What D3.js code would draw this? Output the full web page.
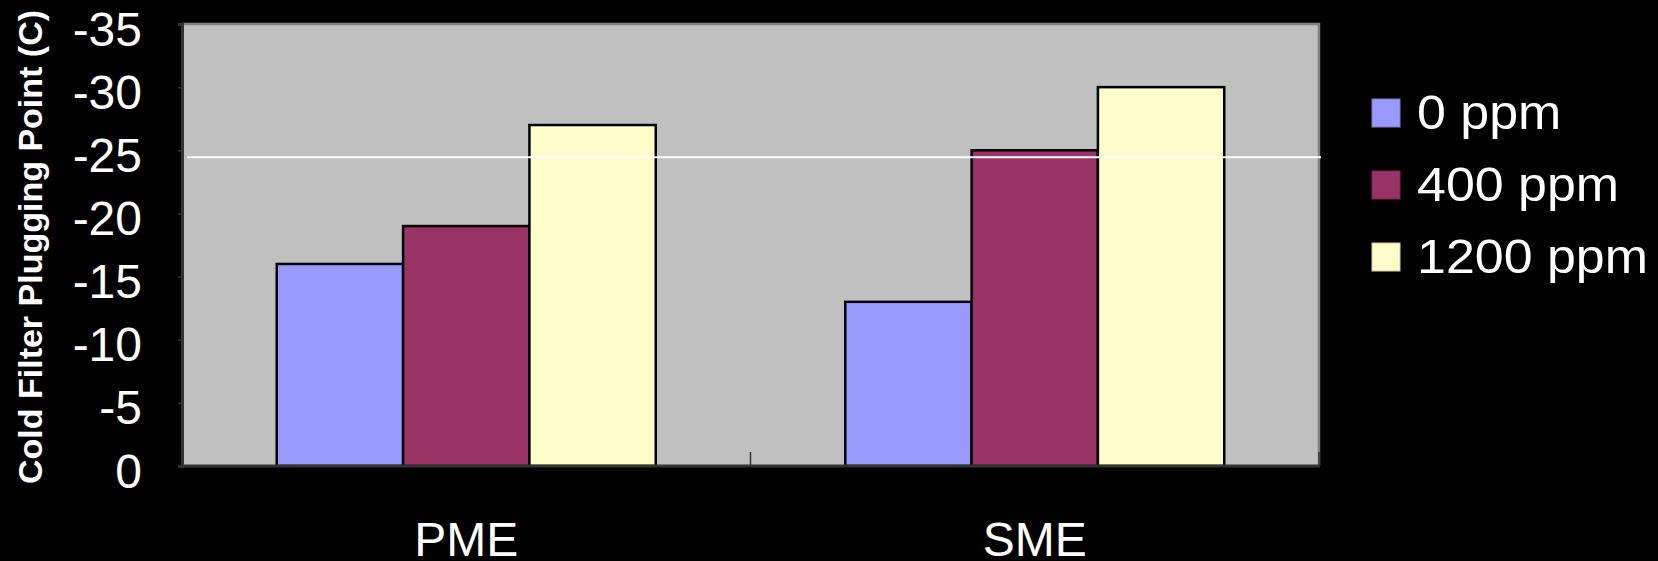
<!DOCTYPE html>
<html>
<head>
<meta charset="utf-8">
<script src="https://cdn.jsdelivr.net/npm/d3@7"></script>
<style>
  html, body { margin: 0; padding: 0; background: #000; }
  svg { display: block; }
  text { font-family: "Liberation Sans", Arial, sans-serif; fill: #fff; }
</style>
</head>
<body>
<svg id="chart" width="1658" height="561"></svg>
<script>
// Cold filter plugging point by fuel and additive dose
const categories = ["PME", "SME"];
const seriesNames = ["0 ppm", "400 ppm", "1200 ppm"];
const seriesColors = ["#9999FF", "#993366", "#FFFFCC"];
const values0ppm = [-16, -13];
const values400ppm = [-19, -25];
const values1200ppm = [-27, -30];
const yTickValues = [0, -5, -10, -15, -20, -25, -30, -35];
const referenceLevel = -24.45;
const yTitle = "Cold Filter Plugging Point (C)";

const seriesValues = [values0ppm, values400ppm, values1200ppm];
const rows = categories.map((c, i) => ({
  category: c,
  bars: seriesNames.map((s, j) => ({ series: s, value: seriesValues[j][i], color: seriesColors[j] }))
}));

const svg = d3.select("#chart");
const plot = { left: 182, right: 1319, top: 24, bottom: 466 };

const y = d3.scaleLinear().domain([0, -35]).range([plot.bottom, plot.top]);
const x0 = d3.scaleBand().domain(categories).range([plot.left, plot.right]).paddingInner(0).paddingOuter(0);
const x1 = d3.scaleBand().domain(seriesNames).range([0, x0.bandwidth()]).paddingInner(0).paddingOuter(0.75);

// plot background
svg.append("rect")
  .attr("x", plot.left).attr("y", plot.top)
  .attr("width", plot.right - plot.left).attr("height", plot.bottom - plot.top)
  .attr("fill", "#C0C0C0");

// top and right frame
svg.append("path")
  .attr("d", `M${plot.left},${plot.top}H${plot.right}V${plot.bottom}`)
  .attr("fill", "none").attr("stroke", "#808080").attr("stroke-width", 2.5);

// bars
const groups = svg.append("g").selectAll("g")
  .data(rows).join("g")
  .attr("transform", d => `translate(${x0(d.category)},0)`);

groups.selectAll("rect")
  .data(d => d.bars).join("rect")
  .attr("x", d => x1(d.series))
  .attr("y", d => y(d.value))
  .attr("width", x1.bandwidth())
  .attr("height", d => y(0) - y(d.value))
  .attr("fill", d => d.color)
  .attr("stroke", "#000")
  .attr("stroke-width", 2.5);

// reference line
svg.append("line")
  .attr("x1", plot.left + 5).attr("x2", plot.right + 2)
  .attr("y1", y(referenceLevel)).attr("y2", y(referenceLevel))
  .attr("stroke", "#fff").attr("stroke-width", 2);

// y axis
const yAxis = d3.axisLeft(y)
  .tickValues(yTickValues)
  .tickSize(4)
  .tickPadding(36)
  .tickFormat(d => d === 0 ? "0" : "-" + Math.abs(d));

const gy = svg.append("g")
  .attr("transform", `translate(${plot.left},0)`)
  .call(yAxis);
gy.select(".domain").attr("stroke", "#333").attr("stroke-width", 3);
gy.selectAll(".tick line").attr("stroke", "#333").attr("stroke-width", 1.5);
gy.selectAll(".tick text")
  .attr("dy", "0.44em")
  .style("font-size", "48px")
  .style("font-family", "'Liberation Sans', Arial, sans-serif")
  .attr("fill", "#fff");

// x axis: ticks between categories point into the plot
const xAxis = d3.axisBottom(x0).tickSize(0).tickPadding(0);
const gx = svg.append("g")
  .attr("transform", `translate(0,${plot.bottom})`)
  .call(xAxis);
gx.select(".domain").remove();
gx.selectAll(".tick text").remove();

const boundaries = [plot.left, ...categories.map(c => x0(c) + x0.bandwidth())];
gx.selectAll(".sep").data(boundaries).join("line")
  .attr("class", "sep")
  .attr("x1", d => d).attr("x2", d => d)
  .attr("y1", 0).attr("y2", -14)
  .attr("stroke", "#333").attr("stroke-width", 1.5);

gx.append("line")
  .attr("x1", plot.left - 1.5).attr("x2", plot.right + 1)
  .attr("y1", 0).attr("y2", 0)
  .attr("stroke", "#333").attr("stroke-width", 3);

svg.append("g").selectAll("text")
  .data(categories).join("text")
  .attr("x", d => x0(d) + x0.bandwidth() / 2)
  .attr("y", 556)
  .attr("text-anchor", "middle")
  .style("font-size", "48px")
  .text(d => d);

// y axis title
svg.append("text")
  .attr("transform", "translate(42,247) rotate(-90)")
  .attr("text-anchor", "middle")
  .style("font-size", "34px")
  .style("font-weight", "bold")
  .text(yTitle);

// legend
const legend = svg.append("g").attr("transform", "translate(1372,0)");
const legendItems = legend.selectAll("g")
  .data(seriesNames).join("g")
  .attr("transform", (d, i) => `translate(0,${129 + i * 72})`);
legendItems.append("rect")
  .attr("x", 0).attr("y", -30)
  .attr("width", 28).attr("height", 28)
  .attr("fill", (d, i) => seriesColors[i])
  .attr("stroke", (d, i) => d3.color(seriesColors[i]).darker(0.6))
  .attr("stroke-width", 1);
legendItems.append("text")
  .attr("transform", "translate(45,0) scale(1.06,1)")
  .style("font-size", "49px")
  .text(d => d);
</script>
</body>
</html>
